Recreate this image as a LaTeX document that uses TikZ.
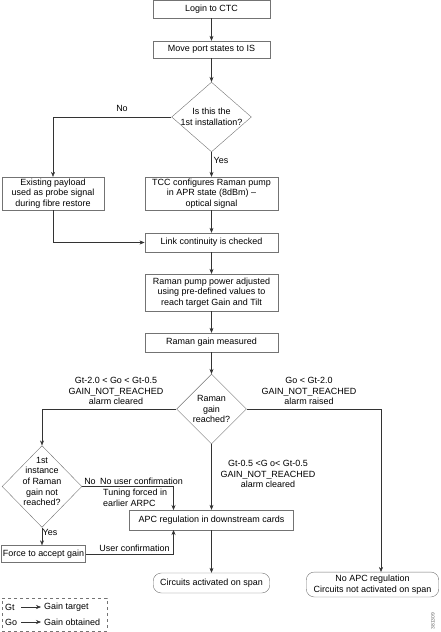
\documentclass[tikz,border=0pt]{standalone}
\usepackage{fontspec}
\setmainfont{Liberation Sans}
\usetikzlibrary{shapes.geometric,arrows.meta}
\begin{document}
\begin{tikzpicture}[x=1bp,y=-1bp,
  font=\fontsize{9}{10.6}\selectfont,
  pbox/.style 2 args={draw=black!55, line width=0.4pt, minimum width=#1, minimum height=#2, inner sep=0pt, align=center},
  dia/.style 2 args={draw=black!55, line width=0.4pt, diamond, minimum width=#1, minimum height=#2, inner sep=0pt},
  rbox/.style 2 args={pbox={#1}{#2}, rounded corners=8bp},
  conn/.style={draw=black!80, line width=0.45pt, -{Stealth[length=5bp,width=4bp]}},
  lbl/.style={inner sep=0pt, align=center}]
\useasboundingbox (0,0) rectangle (441,632);
% boxes
\node[pbox={117}{18}] (login) at (211.5,9) {Login to CTC};
\node[pbox={117}{17}] (move) at (211.5,49.5) {Move port states to IS};
\node[dia={80}{70}] (d1) at (211.5,117) {};
\node[lbl] (d1t) at (d1) {Is this the\\1st installation?};
\node[pbox={102}{33}] (exist) at (53,193.5) {Existing payload\\used as probe signal\\during fibre restore};
\node[pbox={134}{33}] (tcc) at (211.5,193.5) {TCC configures Raman pump\\in APR state (8dBm) --\\optical signal};
\node[pbox={134}{19}] (link) at (211.5,242.5) {Link continuity is checked};
\node[pbox={134}{37}] (pump) at (211.5,292.5) {Raman pump power adjusted\\using pre-defined values to\\reach target Gain and Tilt};
\node[pbox={134}{19}] (meas) at (211.5,342.5) {Raman gain measured};
\node[dia={70}{70}] (d2) at (211.5,409) {};
\node[lbl] (d2t) at (d2) {Raman\\gain\\reached?};
\node[dia={80}{82}] (d3) at (42,486.5) {};
\node[lbl] (d3t) at (42,481.5) {1st\\instance\\of Raman\\gain not\\reached?};
\node[pbox={165}{20}] (apc) at (211.5,520) {APC regulation in downstream cards};
\node[pbox={84}{17}] (force) at (43.5,554) {Force to accept gain};
\node[rbox={117}{20}] (circ) at (211.5,583) {Circuits activated on span};
\node[rbox={133}{25}] (noapc) at (372.5,584.5) {No APC regulation\\Circuits not activated on span};
% helper coordinates
\coordinate (nr) at (381,572);
\coordinate (ta) at (173.5,510);
\coordinate (tb) at (173.5,530);
% connectors
\draw[conn] (login) -- (move);
\draw[conn] (move) -- (d1);
\draw[conn] (d1.west) -| (exist.north);
\draw[conn] (d1.south) -- (tcc.north);
\draw[conn] (exist.south) |- (link.west);
\draw[conn] (tcc) -- (link);
\draw[conn] (link) -- (pump);
\draw[conn] (pump) -- (meas);
\draw[conn] (meas) -- (d2);
\draw[conn] (d2.west) -| (d3.north);
\draw[conn] (d2.east) -| (nr);
\draw[conn] (d2.south) -- (apc.north);
\draw[conn] (d3.east) -| (ta);
\draw[conn] (d3.south) -- (d3.south |- force.north);
\draw[conn] (force.east) -| (tb);
\draw[conn] (apc) -- (circ);
% labels
\node[lbl] at (122,108) {No};
\node[lbl] at (221,160) {Yes};
\node[lbl] at (116,391) {Gt-2.0 < Go < Gt-0.5\\GAIN\_NOT\_REACHED\\alarm cleared};
\node[lbl] at (309,391) {Go < Gt-2.0\\GAIN\_NOT\_REACHED\\alarm raised};
\node[lbl] at (268,474) {Gt-0.5 <G o< Gt-0.5\\GAIN\_NOT\_REACHED\\alarm cleared};
\node[lbl] at (90,481) {No};
\node[lbl,anchor=west] at (100,481) {No user confirmation};
\node[lbl,anchor=north west,align=left] at (103,489) {Tuning forced in\\earlier ARPC};
\node[lbl] at (50,532) {Yes};
\node[lbl] at (134.5,548) {User confirmation};
% legend
\node[draw=black!55, dashed, line width=0.4pt, minimum width=105, minimum height=33, inner sep=0pt] (leg) at (54.5,614.5) {};
\node[lbl,anchor=west] (gt) at (5,607) {Gt};
\node[lbl,anchor=west] (gtt) at (44,607) {Gain target};
\node[lbl,anchor=west] (go) at (5,622) {Go};
\node[lbl,anchor=west] (got) at (44,622) {Gain obtained};
\coordinate (a1) at (21,607);
\coordinate (b1) at (41,607);
\coordinate (a2) at (21,622);
\coordinate (b2) at (41,622);
\draw[conn] (a1) -- (b1);
\draw[conn] (a2) -- (b2);
\node[rotate=90, inner sep=0pt, font=\fontsize{5}{6}\selectfont, text=black!60] (id) at (433,621) {381309};
\end{tikzpicture}
\end{document}
